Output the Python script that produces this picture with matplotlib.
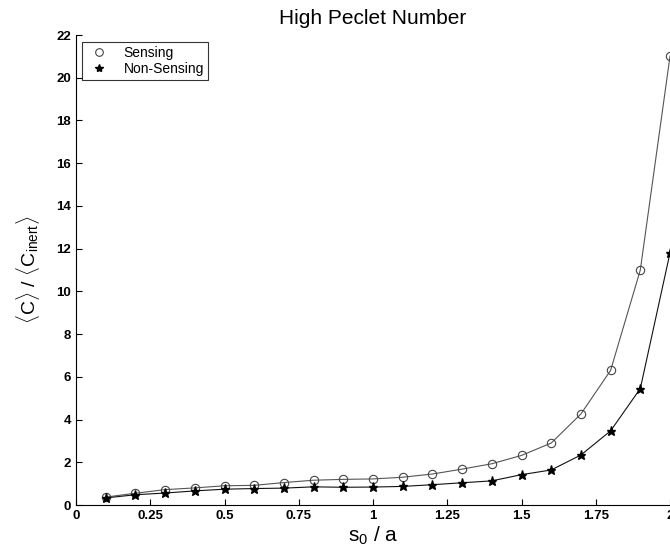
import matplotlib
matplotlib.use("Agg")
import matplotlib.pyplot as plt
from matplotlib.lines import Line2D

plt.rcParams['font.family'] = ['Liberation Sans', 'DejaVu Sans']
plt.rcParams['mathtext.fontset'] = 'custom'
plt.rcParams['mathtext.rm'] = 'Liberation Sans'
plt.rcParams['mathtext.it'] = 'Liberation Sans'

x = [0.1, 0.2, 0.3, 0.4, 0.5, 0.6, 0.7, 0.8, 0.9, 1.0,
     1.1, 1.2, 1.3, 1.4, 1.5, 1.6, 1.7, 1.8, 1.9, 2.0]
sensing = [0.37, 0.55, 0.72, 0.8, 0.9, 0.92, 1.05, 1.16, 1.2, 1.22,
           1.3, 1.45, 1.68, 1.93, 2.32, 2.9, 4.26, 6.3, 11.0, 21.0]
non_sensing = [0.33, 0.48, 0.56, 0.66, 0.74, 0.77, 0.79, 0.85, 0.83, 0.84,
               0.87, 0.95, 1.04, 1.13, 1.42, 1.64, 2.34, 3.47, 5.45, 11.8]
xticks = [0, 0.25, 0.5, 0.75, 1, 1.25, 1.5, 1.75, 2]
xticklabels = ['0', '0.25', '0.5', '0.75', '1', '1.25', '1.5', '1.75', '2']
yticks = list(range(0, 23, 2))

fig = plt.figure(figsize=(6.7, 5.55), dpi=100)
ax = fig.add_axes([76/670, 1-505/555, 1-76/670, (505-35)/555])

ax.plot(x, sensing, color='#555555', lw=0.8, marker='o', ms=6,
        mfc='none', mec='#444444', mew=0.8, clip_on=False)
ax.plot(x, non_sensing, color='#111111', lw=0.8, marker='*', ms=6.5,
        mfc='black', mec='black', clip_on=False)

ax.set_xlim(0, 2)
ax.set_ylim(0, 22)
ax.set_xticks(xticks)
ax.set_xticklabels(xticklabels)
ax.set_yticks(yticks)
ax.tick_params(direction='in', length=4, labelsize=9.5, width=0.8)
for lab in ax.get_xticklabels() + ax.get_yticklabels():
    lab.set_fontweight('bold')
ax.spines['top'].set_visible(False)
ax.spines['right'].set_visible(False)

ax.set_title('High Peclet Number', fontsize=15, pad=8)
ax.set_xlabel(r'$\mathregular{s_0}$ / a', fontsize=15, labelpad=2)
ax.set_ylabel(r'$\langle$C$\rangle$ / $\langle\mathregular{C_{inert}}\rangle$',
              fontsize=14, labelpad=10)

handles = [Line2D([], [], ls='none', marker='o', ms=5.5, mfc='none', mec='#444444', mew=0.8),
           Line2D([], [], ls='none', marker='*', ms=6, mfc='black', mec='black')]
leg = ax.legend(handles, ['Sensing', 'Non-Sensing'], loc='upper left',
                bbox_to_anchor=(0.01, 0.985), borderaxespad=0, fontsize=10,
                frameon=True, fancybox=False,
                edgecolor='black', borderpad=0.3, labelspacing=0.1, handletextpad=0.9,
                handlelength=1.8)
leg.get_frame().set_linewidth(0.8)

fig.savefig('out.png', dpi=100)
